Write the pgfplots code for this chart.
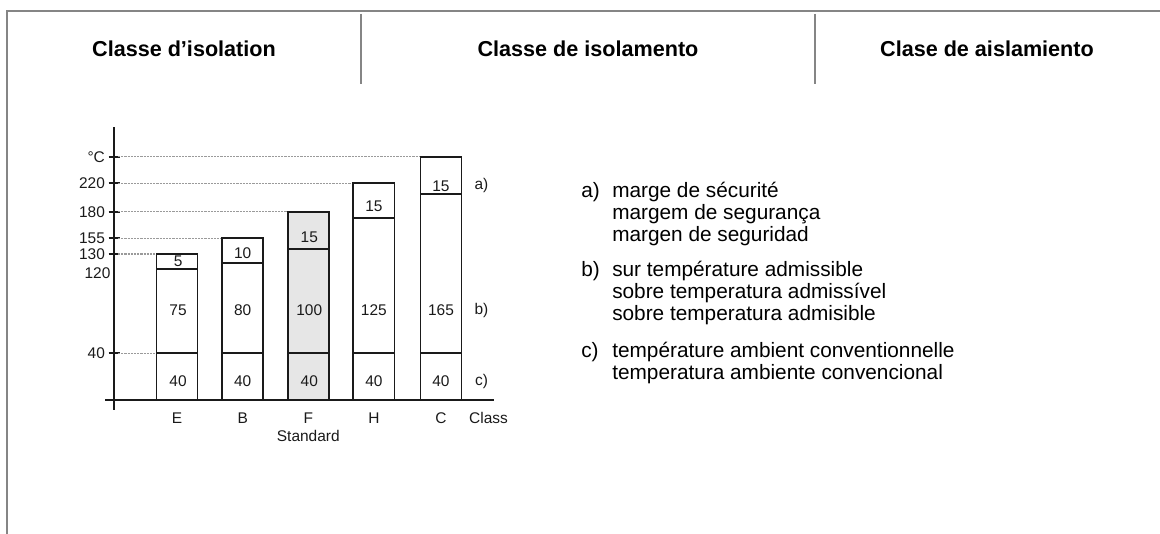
\documentclass[border=0pt]{standalone}
\usepackage{pgfplots}
\pgfplotsset{compat=1.18}
\usepackage{pgfplotstable}
\usepackage{fontspec}
\setmainfont{Liberation Sans}

\definecolor{framegray}{HTML}{858585}
\definecolor{dotgray}{HTML}{9A9A9A}
\definecolor{fgray}{HTML}{E6E6E6}
\definecolor{ink}{HTML}{1A1A1A}

\newcommand{\titlefont}{\fontsize{16.2}{19}\selectfont\bfseries}
\newcommand{\chartfont}{\fontsize{11.6}{14}\selectfont}
\newcommand{\legfont}{\fontsize{15.6}{16}\selectfont}

% drawn levels of the (schematic) scale
\pgfplotstableread{
x     top    mid    low
63    146.0  130.7  46.7
128.5 161.7  137.3  46.7
259.5 216.7  181.7  46.7
326.5 243.3  205.7  46.7
}\plainbars
\pgfplotstableread{
x     top    mid    low
194   188.3  150.7  46.7
}\stdbar
\pgfplotstableread{
x     y      label
64    138.3  5
64    90     75
64    19     40
128.5 146.7  10
128.5 90     80
128.5 19     40
195   162.7  15
195   90     100
195   19     40
259.5 193.3  15
259.5 90     125
259.5 19     40
326.5 214    15
326.5 90     165
326.5 19     40
367   214    a)
367   90     b)
367   19     c)
}\labeltab

\begin{document}
\begin{tikzpicture}
\begin{scope}[x=0.75pt,y=-0.75pt]
\useasboundingbox (0,0) rectangle (1160,534);
\draw[framegray, line width=1.5pt] (7,534) -- (7,11) -- (1160,11);
\draw[framegray, line width=1.5pt] (361,14) -- (361,84);
\draw[framegray, line width=1.5pt] (815,14) -- (815,84);
\node[font=\titlefont, anchor=base] at (184,57) {Classe d’isolation};
\node[font=\titlefont, anchor=base] at (588,57) {Classe de isolamento};
\node[font=\titlefont, anchor=base] at (987,57) {Clase de aislamiento};

\begin{scope}[every node/.style={font=\legfont, anchor=base west, inner sep=0pt}]
\node at (581,198) {a)};
\node at (612,198) {marge de sécurité};
\node at (612,220) {margem de segurança};
\node at (612,242) {margen de seguridad};
\node at (581,277) {b)};
\node at (612,277) {sur température admissible};
\node at (612,299) {sobre temperatura admissível};
\node at (612,321) {sobre temperatura admisible};
\node at (581,358) {c)};
\node at (612,358) {température ambient conventionnelle};
\node at (612,380) {temperatura ambiente convencional};
\end{scope}
\end{scope}

\begin{axis}[
  at={(78.75pt,-307.5pt)}, anchor=south west,
  scale only axis, width=291pt, height=212.25pt,
  xmin=-9, xmax=379, ymin=-10, ymax=273,
  axis lines=middle,
  axis line style={-, draw=ink, line width=1.5pt},
  clip=false,
  /pgf/number format/assume math mode=true,
  ytick={46.7,146,161.7,188.3,216.7,243.3},
  yticklabels={40,130,155,180,220,°C},
  extra y ticks={127},
  extra y tick labels={120},
  extra y tick style={major tick length=0pt},
  ytick style={draw=ink, line width=1.5pt},
  major tick length=8.25pt,
  tick align=center,
  yticklabel style={font=\chartfont, text=ink, anchor=east, inner sep=0pt, xshift=-2.5pt},
  xtick={63,128.5,194,259.5,326.5,374},
  xticklabels={E,B,{F\\Standard},H,C,Class},
  xtick style={draw=none},
  xticklabel style={font=\chartfont, text=ink, align=center, anchor=north, inner sep=0pt, yshift=-5pt},
]
% dotted reference lines
\addplot[dotgray, line width=1.1pt, dash pattern=on 1.6pt off 0.8pt] coordinates {(4,243.3) (305.3,243.3)};
\addplot[dotgray, line width=1.1pt, dash pattern=on 1.6pt off 0.8pt] coordinates {(4,216.7) (239.3,216.7)};
\addplot[dotgray, line width=1.1pt, dash pattern=on 1.6pt off 0.8pt] coordinates {(4,188.3) (172.7,188.3)};
\addplot[dotgray, line width=1.1pt, dash pattern=on 1.6pt off 0.8pt] coordinates {(4,161.7) (108.3,161.7)};
\addplot[dotgray, line width=1.1pt, dash pattern=on 1.6pt off 0.8pt] coordinates {(4,146) (42,146)};
\addplot[dotgray, line width=1.1pt, dash pattern=on 1.6pt off 0.8pt] coordinates {(4,46.7) (42,46.7)};
% bars (drawn from top level down, so segment borders show)
\addplot[ybar, bar width=41, bar shift=0pt, draw=ink, line width=1.3pt, fill=white] table[x=x,y=top]{\plainbars};
\addplot[ybar, bar width=41, bar shift=0pt, draw=ink, line width=1.3pt, fill=white] table[x=x,y=mid]{\plainbars};
\addplot[ybar, bar width=41, bar shift=0pt, draw=ink, line width=1.3pt, fill=white] table[x=x,y=low]{\plainbars};
\addplot[ybar, bar width=41, bar shift=0pt, draw=ink, line width=1.3pt, fill=fgray] table[x=x,y=top]{\stdbar};
\addplot[ybar, bar width=41, bar shift=0pt, draw=ink, line width=1.3pt, fill=fgray] table[x=x,y=mid]{\stdbar};
\addplot[ybar, bar width=41, bar shift=0pt, draw=ink, line width=1.3pt, fill=fgray] table[x=x,y=low]{\stdbar};
% segment labels
\addplot[draw=none, mark=none, nodes near coords, point meta=explicit symbolic,
  nodes near coords align={center},
  every node near coord/.append style={font=\chartfont, text=ink, anchor=center}]
  table[x=x, y=y, meta=label]{\labeltab};
\end{axis}
\end{tikzpicture}
\end{document}
